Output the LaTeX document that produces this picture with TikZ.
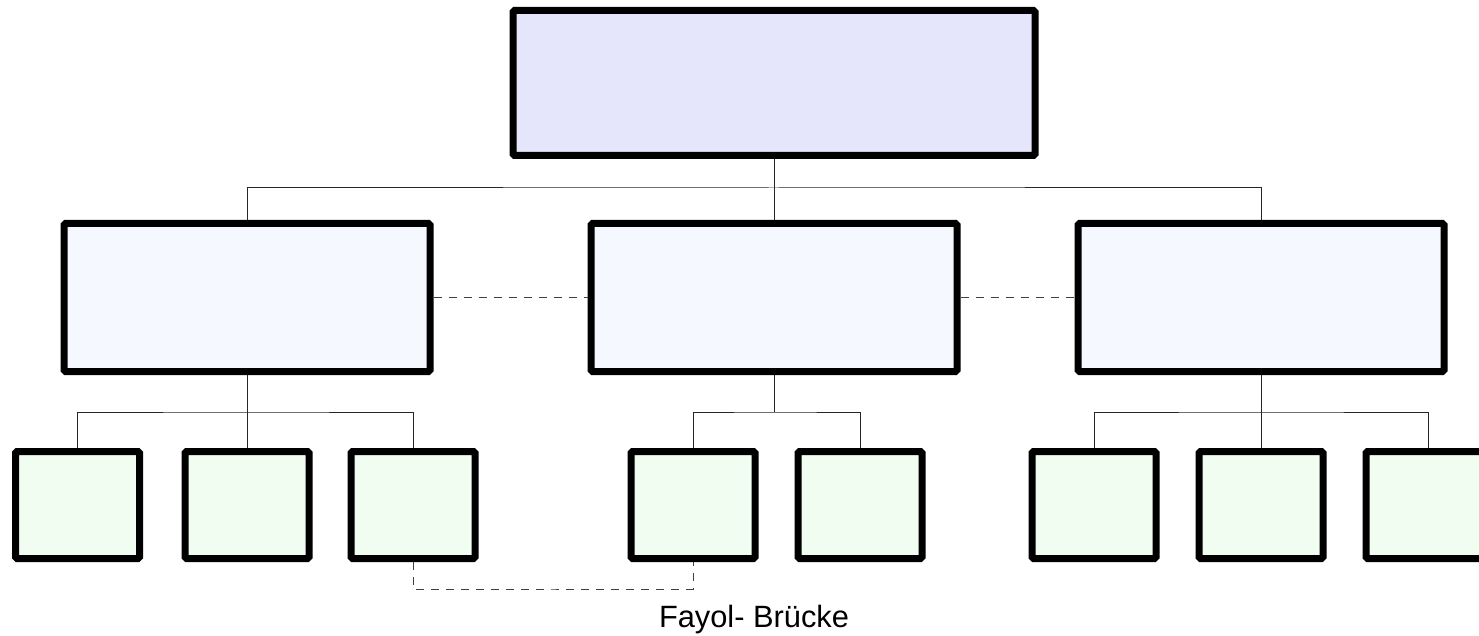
\documentclass[tikz,border=0pt]{standalone}
\usepackage{fontspec}
\setmainfont{Liberation Sans}
\definecolor{topfill}{RGB}{229,229,251}
\definecolor{midfill}{RGB}{245,248,255}
\definecolor{lowfill}{RGB}{242,253,242}
\tikzset{
  box/.style={draw=black, line width=7pt, rounded corners=1.5pt, inner sep=0pt},
  topbox/.style={box, fill=topfill, minimum width=522pt, minimum height=145pt},
  midbox/.style={box, fill=midfill, minimum width=366pt, minimum height=148pt},
  lowbox/.style={box, fill=lowfill, minimum width=124pt, minimum height=107pt},
  link/.style={line width=1pt, black!85},
  bridge/.style={line width=1pt, black!75, dash pattern=on 8pt off 7pt}
}
\begin{document}
\begin{tikzpicture}[x=1pt,y=-1pt]
    \useasboundingbox (0,0) rectangle (1479,636);
    \node[topbox] (top) at (774,83) {};
    \node[midbox] (mid1) at (247,297.5) {};
    \node[midbox] (mid2) at (774,297.5) {};
    \node[midbox] (mid3) at (1261,297.5) {};
    \node[lowbox] (low1) at (77.5,505) {};
    \node[lowbox] (low2) at (247,505) {};
    \node[lowbox] (low3) at (413,505) {};
    \node[lowbox] (low4) at (693,505) {};
    \node[lowbox] (low5) at (860,505) {};
    \node[lowbox] (low6) at (1094,505) {};
    \node[lowbox] (low7) at (1261,505) {};
    \node[lowbox] (low8) at (1428,505) {};
	\coordinate (bus0) at (774,188);
	\coordinate (bus1) at (247,412);
	\coordinate (bus2) at (774,412);
	\coordinate (bus3) at (1261,412);
	\coordinate (fbr) at (553,589);
	\draw[link] (top.south) -- (bus0);
	\draw[link] (mid1.north) |- (bus0) -| (mid3.north);
	\draw[link] (mid2.north) -- (bus0);
	\draw[link] (mid1.south) -- (bus1);
	\draw[link] (low1.north) |- (bus1) -| (low3.north);
	\draw[link] (low2.north) -- (bus1);
	\draw[link] (mid2.south) -- (bus2);
	\draw[link] (low4.north) |- (bus2) -| (low5.north);
	\draw[link] (mid3.south) -- (bus3);
	\draw[link] (low6.north) |- (bus3) -| (low8.north);
	\draw[link] (low7.north) -- (bus3);
	\draw[bridge] (mid1.east) -- (mid2.west);
	\draw[bridge] (mid2.east) -- (mid3.west);
	\draw[bridge] (low3.south) |- (fbr) -| (low4.south);
	\node[anchor=base] (fayol) at (754,627) {\fontsize{30.8}{36}\selectfont Fayol- Brücke};
  \end{tikzpicture}
\end{document}
